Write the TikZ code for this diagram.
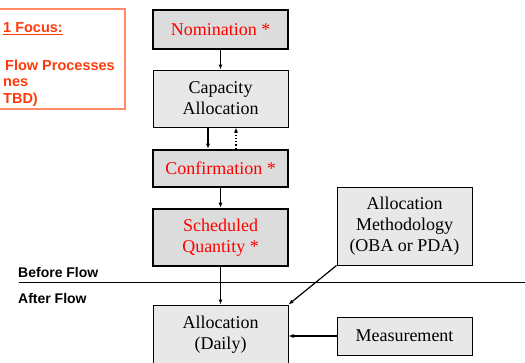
\documentclass[tikz,border=0pt]{standalone}
\usepackage{fontspec}
\setmainfont{Liberation Serif}
\setsansfont{Liberation Sans}
\usetikzlibrary{arrows.meta}
\definecolor{boxgray}{HTML}{E8E8E8}
\definecolor{keygray}{HTML}{DCDCDC}
\definecolor{focusorange}{HTML}{FF3A0A}
\definecolor{focusline}{HTML}{FF8A66}
\begin{document}
\begin{tikzpicture}[x=1pt,y=-1pt,
  step box/.style={shape=rectangle,draw,fill=boxgray,line width=1pt,minimum width=135pt,align=center,font=\fontsize{18}{21}\selectfont},
  key box/.style={step box,fill=keygray,line width=2.6pt,text=red},
  flow/.style={-{Latex[length=5pt,width=4pt]},line width=1.2pt},
  side label/.style={anchor=base west,inner sep=0pt,font=\fontsize{14}{16}\sffamily\bfseries}]
\clip (0,0) rectangle (525,362);
\useasboundingbox (0,0) rectangle (525,362);
% focus note, cut off at the left edge
\node[draw=focusline,line width=1.2pt,minimum width=140pt,minimum height=100pt](focus) at (55,59){};
\node[anchor=north west,inner sep=0pt,align=left,text=focusorange,font=\fontsize{14.5}{16.5}\sffamily\bfseries](focustext) at (3,22.5){\underline{1 Focus:}\\[21pt]\hspace{2pt}Flow Processes\\nes\\TBD)};
% main column
\node[key box,minimum height=39pt](nom) at (220.5,29.5){Nomination *};
\node[step box,minimum height=57pt](cap) at (220.5,98.5){Capacity\\Allocation};
\node[key box,minimum height=37pt](conf) at (220.5,168.5){Confirmation *};
\node[key box,minimum height=57pt](sched) at (220.5,237.5){Scheduled\\Quantity *};
\node[step box,minimum height=59pt](alloc) at (220.5,334.5){Allocation\\(Daily)};
% inputs on the right
\node[step box,minimum height=78pt](meth) at (404.5,226){Allocation\\Methodology\\(OBA or PDA)};
\node[step box,minimum height=38pt](meas) at (404.5,336){Measurement};
% before / after flow
\coordinate (cutl) at (19,282);
\coordinate (cutr) at (525,282);
\draw[line width=1pt] (cutl) -- (cutr);
\node[side label](before) at (18,277){Before Flow};
\node[side label](after) at (18,303){After Flow};
% connectors
\draw[flow] (nom) -- (cap);
\draw[flow] ([xshift=-12.5pt]cap.south) -- ([xshift=-12.5pt]conf.north);
\draw[flow,dotted] ([xshift=15.5pt]conf.north) -- ([xshift=15.5pt]cap.south);
\draw[flow] (conf) -- (sched);
\draw[flow] (sched) -- (alloc);
\draw[flow] (meth.south west) -- (alloc.north east);
\draw[flow] (meas.west) -- (meas.west -| alloc.east);
\end{tikzpicture}
\end{document}
